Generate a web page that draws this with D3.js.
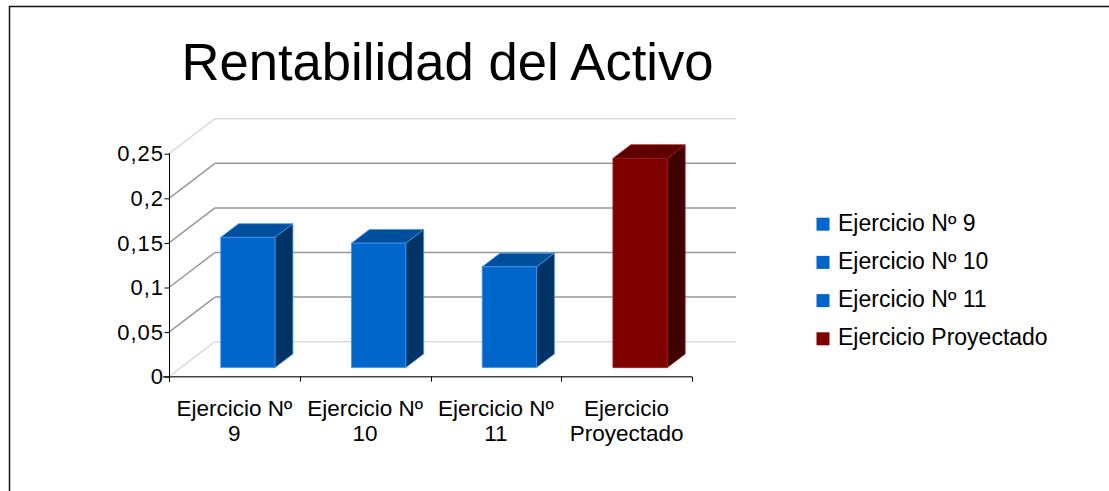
<!DOCTYPE html>
<html>
<head>
<meta charset="utf-8">
<title>Rentabilidad del Activo</title>
<script src="https://d3js.org/d3.v7.min.js"></script>
<style>
    body { margin: 0; background: #fff; }
    svg { display: block; font-family: "Liberation Sans", Arial, sans-serif; }
    .ytick text { font-size: 22px; letter-spacing: 1px; fill: #000; }
    .xlabel { font-size: 22.5px; fill: #000; }
    .legend text { font-size: 23px; fill: #000; }
</style>
</head>
<body>
<div id="chart"></div>
<script>
// data
var categories = ["Ejercicio Nº 9", "Ejercicio Nº 10", "Ejercicio Nº 11", "Ejercicio Proyectado"];
var values = [0.146, 0.1395, 0.113, 0.2345];
var yTicks = [0, 0.05, 0.1, 0.15, 0.2, 0.25];
var yTickLabels = ["0", "0,05", "0,1", "0,15", "0,2", "0,25"];

var width = 1109, height = 491;

// colours per bar: front, top, side, edge
var blue = { front: "#0066cc", top: "#004f9c", side: "#003366", edge: "#3f96ee" };
var red = { front: "#800000", top: "#5e0000", side: "#400000", edge: "#a01818" };
var palette = [blue, blue, blue, red];

var svg = d3.select("#chart").append("svg")
    .attr("width", width)
    .attr("height", height);

// frame (only top and left edge show)
svg.append("line").attr("x1", 9).attr("y1", 6.5).attr("x2", width).attr("y2", 6.5)
    .attr("stroke", "#111").attr("stroke-width", 1.5);
svg.append("line").attr("x1", 9.5).attr("y1", 6).attr("x2", 9.5).attr("y2", height)
    .attr("stroke", "#111").attr("stroke-width", 1.5);

// title
svg.append("text")
    .attr("x", 447.5).attr("y", 80)
    .attr("text-anchor", "middle")
    .style("font-size", "52.6px")
    .text("Rentabilidad del Activo");

// scales
var x = d3.scaleBand().domain(categories).range([169, 692])
    .paddingInner(0.585).paddingOuter(0.2925);
var y = d3.scaleLinear().domain([0, 0.25]).range([376.7, 153.7]);

// depth of the 3D box
var depth = { dx: 46, dy: -35 };
var barFront = 0.26, barDepth = 0.39;
var wallRight = 736;

// walls: diagonal lines on the left side and horizontal lines on the back
var grid = svg.append("g");
yTicks.forEach(function(t, i) {
    var c = (i === 0 || i === yTicks.length - 1) ? "#dcdcdc" : "#999";
    grid.append("line")
        .attr("x1", 169).attr("y1", y(t))
        .attr("x2", 169 + depth.dx).attr("y2", y(t) + depth.dy)
        .attr("stroke", c).attr("stroke-width", 1.5);
    grid.append("line")
        .attr("x1", 169 + depth.dx).attr("y1", y(t) + depth.dy)
        .attr("x2", wallRight).attr("y2", y(t) + depth.dy)
        .attr("stroke", c).attr("stroke-width", 1.5);
});

// x axis floor line and ticks at band boundaries
var step = x.step();
svg.append("line")
    .attr("x1", 163).attr("y1", y(0)).attr("x2", 692).attr("y2", y(0))
    .attr("stroke", "#444").attr("stroke-width", 1.5);
d3.range(categories.length + 1).forEach(function(i) {
    var bx = Math.round(169 + i * step) + 0.5;
    svg.append("line")
        .attr("x1", bx).attr("y1", y(0)).attr("x2", bx).attr("y2", y(0) + 5)
        .attr("stroke", "#000").attr("stroke-width", 1);
});

// y axis
var yAxis = d3.axisLeft(y)
    .tickValues(yTicks)
    .tickSize(5)
    .tickPadding(0.5)
    .tickFormat(function(d, i) { return yTickLabels[i]; });
svg.append("g")
    .attr("class", "ytick")
    .attr("transform", "translate(169.5,0)")
    .call(yAxis)
    .call(function(g) {
        g.select(".domain").attr("stroke", "#000").attr("d", "M0," + (y(0.25) - 0.5) + "V" + (y(0) + 5));
        g.selectAll(".tick line").attr("stroke", "#000");
        g.selectAll(".tick text").attr("dy", "0.33em");
        g.attr("font-size", null).attr("font-family", null);
    });

// bars
var fdx = depth.dx * barFront, fdy = depth.dy * barFront;
var bdx = depth.dx * barDepth, bdy = depth.dy * barDepth;
var bars = svg.append("g");
categories.forEach(function(cat, i) {
    var col = palette[i];
    var x0 = x(cat) + fdx + 1.5, w = x.bandwidth();
    var yb = y(0) + fdy, yt = y(values[i]) + fdy;
    var g = bars.append("g").attr("stroke", col.edge).attr("stroke-width", 0.8)
        .attr("stroke-linejoin", "round");
    // side
    g.append("polygon")
        .attr("points", [[x0 + w, yt], [x0 + w + bdx, yt + bdy], [x0 + w + bdx, yb + bdy], [x0 + w, yb]].join(" "))
        .attr("fill", col.side);
    // top
    g.append("polygon")
        .attr("points", [[x0, yt], [x0 + w, yt], [x0 + w + bdx, yt + bdy], [x0 + bdx, yt + bdy]].join(" "))
        .attr("fill", col.top);
    // front
    g.append("rect")
        .attr("x", x0).attr("y", yt)
        .attr("width", w).attr("height", yb - yt)
        .attr("fill", col.front);
});

// category labels, wrapped at last space
categories.forEach(function(cat) {
    var cut = cat.lastIndexOf(" ");
    var lines = [cat.slice(0, cut), cat.slice(cut + 1)];
    var cx = x(cat) + x.bandwidth() / 2;
    var t = svg.append("text")
        .attr("class", "xlabel")
        .attr("text-anchor", "middle")
        .attr("x", cx)
        .attr("y", 416);
    lines.forEach(function(l, j) {
        t.append("tspan")
            .attr("x", cx)
            .attr("dy", j === 0 ? 0 : 25)
            .text(l);
    });
});

// legend
var legend = svg.append("g").attr("class", "legend");
categories.forEach(function(cat, i) {
    var by = 230.7 + i * 38.2;
    legend.append("rect")
        .attr("x", 816.5).attr("y", by - 13)
        .attr("width", 13).attr("height", 13)
        .attr("fill", palette[i].front);
    legend.append("text")
        .attr("x", 838).attr("y", by)
        .text(cat);
});
</script>
</body>
</html>
